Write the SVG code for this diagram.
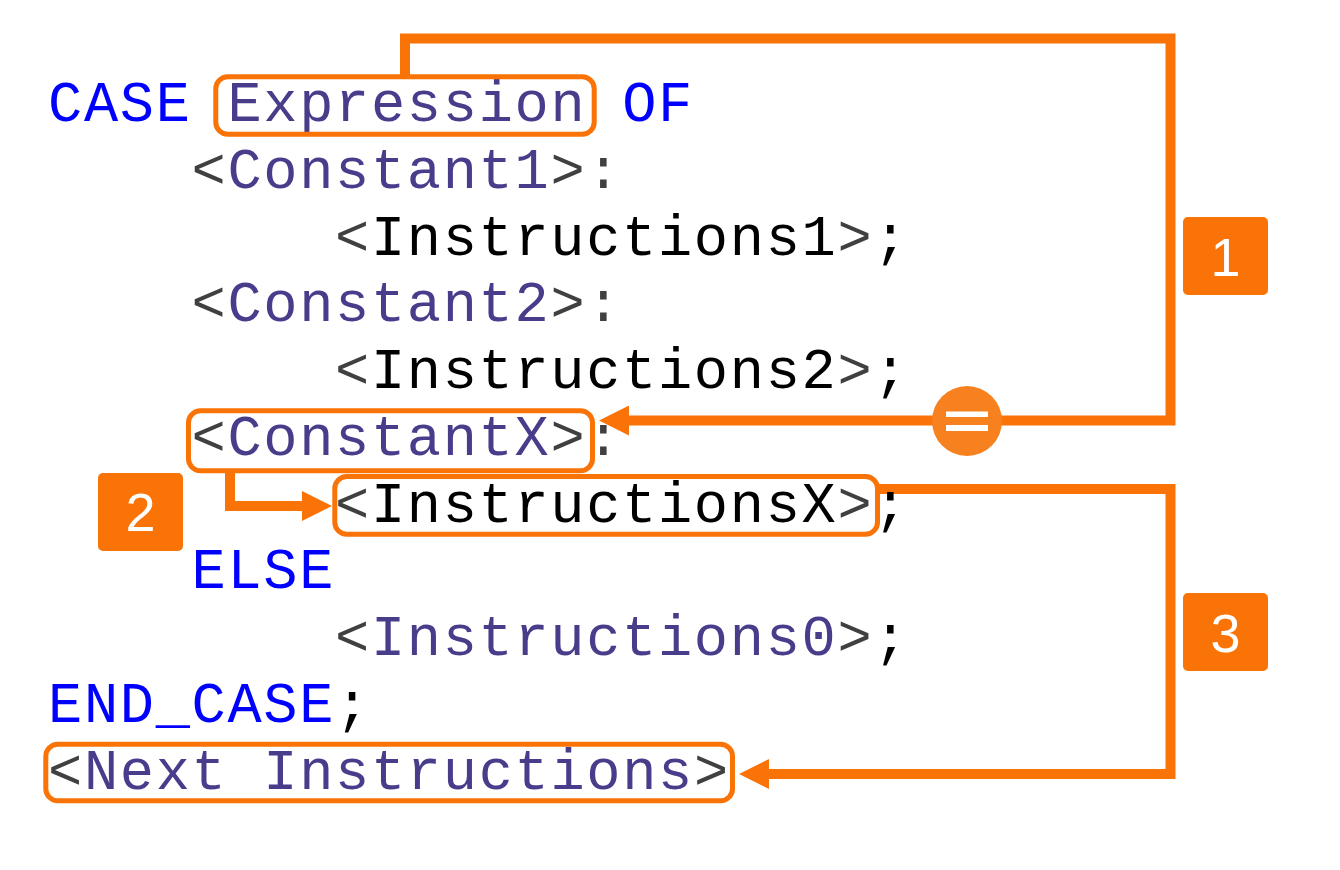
<svg xmlns="http://www.w3.org/2000/svg" width="1340" height="870" viewBox="0 0 1340 870">
<style>
.code{font-family:"Liberation Mono","Courier New",monospace;font-size:57px;letter-spacing:1.68px;white-space:pre}
.kw{fill:#0000FF}
.ph{fill:#483D8B}
.br{fill:#404040}
.bk{fill:#000000}
.pc{fill:#404040}
.hl{fill:none;stroke:#F97306;stroke-width:5}
.conn{fill:none;stroke:#F97306;stroke-width:10;stroke-linejoin:miter}
.badge{fill:#F97306}
.num{font-family:"Liberation Sans",Arial,sans-serif;font-size:54px;fill:#FFFFFF;text-anchor:middle}
</style>
<defs>
<marker id="arr" viewBox="0 0 30 30" markerWidth="30" markerHeight="30" markerUnits="userSpaceOnUse" refX="0" refY="15" orient="auto">
<path d="M0,0 L30,15 L0,30 Z" fill="#F97306"/>
</marker>
</defs>
<rect width="1340" height="870" fill="#FFFFFF"/>

<g id="connectors">
<path class="conn" d="M405,76 V38.5 H1170.5 V420.5 H629" marker-end="url(#arr)"/>
<path class="conn" d="M230,471 V506 H302" marker-end="url(#arr)"/>
<path class="conn" d="M879,489 H1170.5 V774 H769" marker-end="url(#arr)"/>
<g id="equals">
<circle cx="967" cy="421" r="35" fill="#F8811F"/>
<rect x="946" y="411.5" width="42" height="5.5" fill="#FFFFFF"/>
<rect x="946" y="425" width="42" height="6" fill="#FFFFFF"/>
</g>
</g>

<g id="code">
<text class="code" x="48" y="121" xml:space="preserve"><tspan class="kw">CASE </tspan><tspan class="ph">Expression</tspan><tspan class="kw"> OF</tspan></text>
<text class="code" x="191.5" y="187.8" xml:space="preserve"><tspan class="br">&lt;</tspan><tspan class="ph">Constant1</tspan><tspan class="br">&gt;</tspan><tspan class="pc">:</tspan></text>
<text class="code" x="335" y="254.5" xml:space="preserve"><tspan class="br">&lt;</tspan><tspan class="bk">Instructions1</tspan><tspan class="br">&gt;</tspan><tspan class="bk">;</tspan></text>
<text class="code" x="191.5" y="321.3" xml:space="preserve"><tspan class="br">&lt;</tspan><tspan class="ph">Constant2</tspan><tspan class="br">&gt;</tspan><tspan class="pc">:</tspan></text>
<text class="code" x="335" y="388" xml:space="preserve"><tspan class="br">&lt;</tspan><tspan class="bk">Instructions2</tspan><tspan class="br">&gt;</tspan><tspan class="bk">;</tspan></text>
<text class="code" x="191.5" y="454.8" xml:space="preserve"><tspan class="br">&lt;</tspan><tspan class="ph">ConstantX</tspan><tspan class="br">&gt;</tspan><tspan class="pc">:</tspan></text>
<text class="code" x="335" y="521.5" xml:space="preserve"><tspan class="br">&lt;</tspan><tspan class="bk">InstructionsX</tspan><tspan class="br">&gt;</tspan><tspan class="bk">;</tspan></text>
<text class="code" x="191.5" y="588.3" xml:space="preserve"><tspan class="kw">ELSE</tspan></text>
<text class="code" x="335" y="655" xml:space="preserve"><tspan class="br">&lt;</tspan><tspan class="ph">Instructions0</tspan><tspan class="br">&gt;</tspan><tspan class="bk">;</tspan></text>
<text class="code" x="48" y="721.8" xml:space="preserve"><tspan class="kw">END_CASE</tspan><tspan class="bk">;</tspan></text>
<text class="code" x="48" y="788.5" xml:space="preserve"><tspan class="br">&lt;</tspan><tspan class="ph">Next Instructions</tspan><tspan class="br">&gt;</tspan></text>
</g>

<g id="node-expression"><rect class="hl" x="215.8" y="76.8" width="378.4" height="57.4" rx="12"/></g>
<g id="node-constantx"><rect class="hl" x="188.5" y="410.8" width="404" height="60" rx="12"/></g>
<g id="node-instructionsx"><rect class="hl" x="334.8" y="476.5" width="542.7" height="57.7" rx="12"/></g>
<g id="node-next"><rect class="hl" x="45.8" y="744.2" width="686.7" height="56.6" rx="12"/></g>

<g id="badge-1"><rect class="badge" x="1183" y="217" width="85" height="78" rx="5"/><text class="num" x="1225.5" y="276">1</text></g>
<g id="badge-2"><rect class="badge" x="98" y="473" width="85" height="78" rx="5"/><text class="num" x="140.5" y="531">2</text></g>
<g id="badge-3"><rect class="badge" x="1183" y="593" width="85" height="78" rx="5"/><text class="num" x="1225.5" y="652">3</text></g>
</svg>
